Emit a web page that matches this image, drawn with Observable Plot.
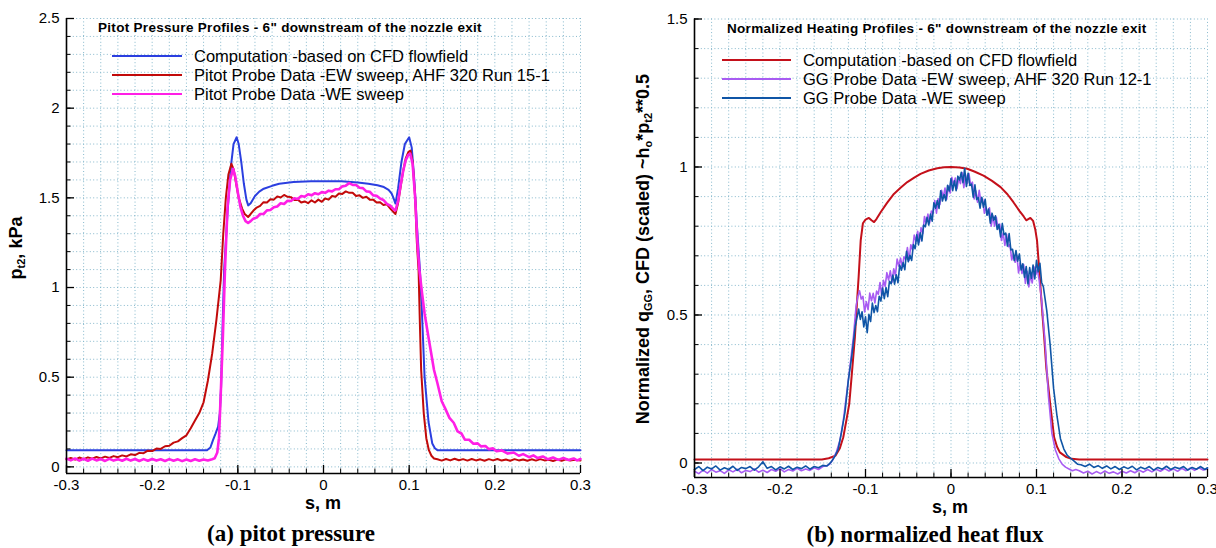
<!DOCTYPE html>
<html><head><meta charset="utf-8">
<script src="https://cdn.jsdelivr.net/npm/d3@7"></script>
<script src="https://cdn.jsdelivr.net/npm/@observablehq/plot@0.6"></script>
<style>
body{margin:0;background:#fff;}
#page{position:relative;width:1216px;height:548px;overflow:hidden;font-family:"Liberation Sans",Arial,sans-serif;color:#000;}
.abs{position:absolute;white-space:nowrap;line-height:1;}
.panel{position:absolute;top:0;}
.ttl{font-weight:bold;font-size:13.5px;letter-spacing:0.3px;transform:translateY(-50%);}
.leg{font-size:16.5px;transform:translateY(-50%);}
.sw{position:absolute;height:0;border-top-style:solid;transform:translateY(-50%);}
.axt{font-weight:bold;font-size:18px;transform:translate(-50%,-50%);}
.yt{font-weight:bold;font-size:18px;transform:translate(-50%,-50%) rotate(-90deg);}
.yt sub{font-size:11px;vertical-align:-3px;}
.cap{font-family:"Liberation Serif","Times New Roman",serif;font-weight:bold;font-size:23px;transform:translate(-50%,-50%);}
</style></head>
<body><div id="page"></div>
<script>
// ---------- axis ticks & labels ----------
const sDomain = [-0.3, 0.3];
const sMajor = [-0.3, -0.2, -0.1, 0, 0.1, 0.2, 0.3];
const pitotDomain = [-0.037, 2.5];
const pitotMajor = [0, 0.5, 1, 1.5, 2, 2.5];
const heatDomain = [-0.049, 1.5];
const heatMajor = [0, 0.5, 1, 1.5];

const pitotTitle = 'Pitot Pressure Profiles - 6" downstream of the nozzle exit';
const heatTitle = 'Normalized Heating Profiles - 6" downstream of the nozzle exit';
const pitotNames = ["Computation -based on CFD flowfield", "Pitot Probe Data -EW sweep, AHF 320 Run 15-1", "Pitot Probe Data -WE sweep"];
const heatNames = ["Computation -based on CFD flowfield", "GG Probe Data -EW sweep, AHF 320 Run 12-1", "GG Probe Data -WE sweep"];
const pitotColors = ["#2b3fe0", "#c20a0a", "#ff1fe6"];
const heatColors = ["#c4101a", "#a85cf2", "#0f55a6"];

// ---------- (a) pitot pressure, kPa : [s (m), p_t2] ----------
const pitotCFD = [[-0.3,0.093],[-0.136,0.093],[-0.132,0.108],[-0.129,0.149],[-0.126,0.185],[-0.123,0.225],[-0.121,0.3],[-0.1195,0.45],[-0.118,0.75],[-0.116,1.096],[-0.112,1.42],[-0.108,1.68],[-0.105,1.8],[-0.1014,1.838],[-0.099,1.8],[-0.096,1.7],[-0.093,1.58],[-0.09,1.49],[-0.0879,1.458],[-0.085,1.47],[-0.08,1.51],[-0.075,1.535],[-0.0697,1.551],[-0.06,1.567],[-0.0517,1.579],[-0.035,1.588],[-0.0146,1.592],[0.0207,1.592],[0.04,1.585],[0.0524,1.579],[0.063,1.57],[0.0705,1.56],[0.076,1.545],[0.0796,1.523],[0.082,1.495],[0.084,1.468],[0.087,1.55],[0.091,1.7],[0.095,1.8],[0.1,1.838],[0.103,1.78],[0.106,1.6],[0.109,1.35],[0.1126,1.094],[0.115,0.85],[0.118,0.5],[0.1226,0.25],[0.127,0.13],[0.13,0.104],[0.133,0.093],[0.3,0.093]];

const pitotEW = [[-0.3,0.042],[-0.295,0.05],[-0.29,0.04],[-0.285,0.052],[-0.28,0.043],[-0.275,0.053],[-0.27,0.045],[-0.265,0.055],[-0.26,0.047],[-0.255,0.057],[-0.25,0.05],[-0.245,0.06],[-0.24,0.054],[-0.235,0.064],[-0.23,0.058],[-0.225,0.07],[-0.22,0.066],[-0.215,0.078],[-0.21,0.076],[-0.205,0.09],[-0.2,0.088],[-0.195,0.102],[-0.19,0.1],[-0.185,0.115],[-0.18,0.118],[-0.175,0.135],[-0.17,0.142],[-0.165,0.16],[-0.16,0.176],[-0.155,0.215],[-0.15,0.258],[-0.145,0.3],[-0.14,0.36],[-0.135,0.48],[-0.13,0.63],[-0.125,0.82],[-0.12,1.04],[-0.117,1.3],[-0.114,1.5],[-0.111,1.63],[-0.1075,1.69],[-0.105,1.66],[-0.102,1.58],[-0.099,1.5],[-0.095,1.44],[-0.092,1.41],[-0.088,1.393],[-0.085,1.41],[-0.082,1.428],[-0.078,1.446],[-0.074,1.455],[-0.07,1.476],[-0.066,1.474],[-0.062,1.492],[-0.058,1.49],[-0.054,1.508],[-0.05,1.502],[-0.046,1.516],[-0.042,1.506],[-0.038,1.504],[-0.034,1.488],[-0.03,1.49],[-0.026,1.474],[-0.022,1.48],[-0.018,1.47],[-0.014,1.486],[-0.01,1.474],[-0.006,1.49],[-0.002,1.478],[0.002,1.496],[0.006,1.49],[0.01,1.51],[0.014,1.506],[0.018,1.524],[0.022,1.522],[0.026,1.536],[0.03,1.528],[0.034,1.528],[0.038,1.51],[0.042,1.514],[0.046,1.5],[0.05,1.506],[0.054,1.49],[0.058,1.49],[0.062,1.474],[0.066,1.476],[0.07,1.46],[0.074,1.464],[0.078,1.44],[0.082,1.42],[0.084,1.41],[0.087,1.47],[0.09,1.56],[0.093,1.65],[0.096,1.72],[0.099,1.755],[0.1015,1.764],[0.104,1.7],[0.107,1.5],[0.109,1.25],[0.111,1.094],[0.1125,0.8],[0.114,0.54],[0.117,0.3],[0.12,0.16],[0.123,0.093],[0.126,0.062],[0.129,0.047],[0.133,0.042],[0.138,0.035],[0.143,0.044],[0.148,0.036],[0.153,0.045],[0.158,0.037],[0.163,0.043],[0.168,0.035],[0.173,0.044],[0.178,0.036],[0.183,0.042],[0.188,0.034],[0.193,0.043],[0.198,0.036],[0.203,0.044],[0.208,0.035],[0.213,0.041],[0.218,0.034],[0.223,0.043],[0.228,0.036],[0.233,0.041],[0.238,0.034],[0.243,0.042],[0.248,0.035],[0.253,0.043],[0.258,0.036],[0.263,0.04],[0.268,0.033],[0.273,0.041],[0.278,0.034],[0.283,0.042],[0.288,0.035],[0.293,0.04],[0.3,0.036]];

const pitotWE = [[-0.3,0.046],[-0.295,0.036],[-0.29,0.047],[-0.285,0.035],[-0.28,0.045],[-0.275,0.034],[-0.27,0.046],[-0.265,0.036],[-0.26,0.044],[-0.255,0.033],[-0.25,0.045],[-0.245,0.035],[-0.24,0.043],[-0.235,0.034],[-0.23,0.045],[-0.225,0.035],[-0.22,0.044],[-0.215,0.033],[-0.21,0.043],[-0.205,0.034],[-0.2,0.044],[-0.195,0.035],[-0.19,0.042],[-0.185,0.033],[-0.18,0.043],[-0.175,0.034],[-0.17,0.042],[-0.165,0.032],[-0.16,0.041],[-0.155,0.033],[-0.15,0.042],[-0.145,0.034],[-0.14,0.041],[-0.135,0.036],[-0.13,0.043],[-0.127,0.048],[-0.124,0.08],[-0.122,0.16],[-0.12,0.4],[-0.1175,0.72],[-0.115,1.1],[-0.112,1.45],[-0.109,1.6],[-0.1055,1.662],[-0.103,1.62],[-0.1,1.53],[-0.097,1.45],[-0.094,1.4],[-0.091,1.37],[-0.088,1.36],[-0.085,1.37],[-0.082,1.384],[-0.078,1.39],[-0.074,1.41],[-0.07,1.41],[-0.066,1.43],[-0.062,1.432],[-0.058,1.448],[-0.054,1.452],[-0.05,1.47],[-0.046,1.466],[-0.042,1.484],[-0.038,1.482],[-0.034,1.498],[-0.03,1.494],[-0.026,1.51],[-0.022,1.506],[-0.018,1.52],[-0.014,1.514],[-0.01,1.526],[-0.006,1.52],[-0.002,1.532],[0.002,1.528],[0.006,1.54],[0.01,1.536],[0.014,1.548],[0.018,1.548],[0.022,1.564],[0.026,1.568],[0.03,1.582],[0.034,1.572],[0.038,1.572],[0.042,1.556],[0.046,1.554],[0.05,1.536],[0.054,1.534],[0.058,1.514],[0.062,1.512],[0.066,1.496],[0.07,1.488],[0.074,1.466],[0.078,1.456],[0.082,1.436],[0.084,1.43],[0.087,1.48],[0.09,1.57],[0.093,1.65],[0.096,1.71],[0.099,1.74],[0.1012,1.746],[0.104,1.69],[0.107,1.5],[0.11,1.22],[0.112,1.094],[0.115,0.97],[0.118,0.855],[0.1225,0.724],[0.129,0.54],[0.133,0.466],[0.138,0.366],[0.142,0.326],[0.147,0.273],[0.152,0.246],[0.1565,0.198],[0.161,0.186],[0.165,0.152],[0.17,0.151],[0.175,0.129],[0.18,0.131],[0.184,0.114],[0.189,0.116],[0.193,0.099],[0.198,0.103],[0.202,0.087],[0.208,0.092],[0.215,0.074],[0.222,0.08],[0.228,0.062],[0.233,0.071],[0.24,0.054],[0.245,0.064],[0.25,0.049],[0.256,0.058],[0.262,0.042],[0.268,0.052],[0.274,0.039],[0.28,0.049],[0.286,0.038],[0.292,0.047],[0.296,0.036],[0.3,0.044]];

// ---------- (b) normalized heat flux : [s (m), q] ----------
const heatCFD = [[-0.3,0.012],[-0.151,0.012],[-0.143,0.016],[-0.135,0.025],[-0.13,0.05],[-0.126,0.087],[-0.122,0.15],[-0.119,0.2],[-0.116,0.3],[-0.1124,0.425],[-0.11,0.54],[-0.108,0.63],[-0.1056,0.752],[-0.103,0.81],[-0.1,0.822],[-0.096,0.828],[-0.093,0.82],[-0.09,0.814],[-0.087,0.825],[-0.0823,0.847],[-0.075,0.878],[-0.0668,0.909],[-0.059,0.93],[-0.0511,0.949],[-0.043,0.964],[-0.0356,0.977],[-0.026,0.988],[-0.016,0.996],[-0.008,0.999],[0,1.0],[0.01,0.998],[0.019,0.994],[0.028,0.984],[0.038,0.971],[0.048,0.953],[0.058,0.932],[0.066,0.908],[0.073,0.881],[0.08,0.852],[0.085,0.833],[0.088,0.82],[0.0928,0.828],[0.096,0.818],[0.0985,0.79],[0.1006,0.752],[0.103,0.66],[0.1045,0.6],[0.107,0.5],[0.109,0.425],[0.1115,0.32],[0.116,0.2],[0.1206,0.087],[0.124,0.055],[0.1273,0.036],[0.135,0.02],[0.141,0.014],[0.15,0.012],[0.3,0.012]];

const heatEW = [[-0.3,-0.028],[-0.295,-0.036],[-0.29,-0.024],[-0.285,-0.034],[-0.28,-0.022],[-0.275,-0.031],[-0.27,-0.026],[-0.265,-0.035],[-0.26,-0.023],[-0.255,-0.03],[-0.25,-0.021],[-0.245,-0.033],[-0.24,-0.025],[-0.235,-0.029],[-0.23,-0.02],[-0.225,-0.031],[-0.22,-0.024],[-0.215,-0.032],[-0.21,-0.022],[-0.205,-0.028],[-0.2,-0.019],[-0.195,-0.03],[-0.19,-0.022],[-0.185,-0.027],[-0.18,-0.018],[-0.175,-0.026],[-0.17,-0.02],[-0.165,-0.025],[-0.16,-0.016],[-0.155,-0.022],[-0.15,-0.012],[-0.146,-0.01],[-0.142,-0.004],[-0.138,0.012],[-0.134,0.038],[-0.13,0.075],[-0.126,0.142],[-0.122,0.235],[-0.118,0.33],[-0.114,0.43],[-0.111,0.53],
[-0.109,0.562],[-0.107,0.582],[-0.105,0.554],[-0.103,0.563],[-0.101,0.51],[-0.099,0.545],[-0.097,0.518],[-0.095,0.574],[-0.093,0.548],[-0.091,0.573],[-0.089,0.541],[-0.087,0.581],[-0.085,0.57],[-0.083,0.61],[-0.081,0.565],[-0.079,0.617],[-0.077,0.597],[-0.075,0.643],[-0.073,0.618],[-0.071,0.649],[-0.069,0.611],[-0.067,0.656],[-0.065,0.634],[-0.063,0.689],[-0.061,0.665],[-0.059,0.692],[-0.057,0.66],[-0.055,0.697],[-0.053,0.687],[-0.051,0.728],[-0.049,0.685],[-0.047,0.737],[-0.045,0.72],[-0.043,0.77],[-0.041,0.749],[-0.039,0.783],[-0.037,0.747],[-0.035,0.795],[-0.033,0.775],[-0.031,0.833],[-0.029,0.811],[-0.027,0.841],[-0.025,0.811],[-0.023,0.851],[-0.021,0.843],[-0.019,0.887],[-0.017,0.844],[-0.015,0.893],[-0.013,0.874],[-0.011,0.921],[-0.009,0.898],[-0.007,0.929],[-0.005,0.891],[-0.003,0.936],[-0.001,0.912],[0.001,0.965],[0.003,0.938],[0.005,0.963],[0.007,0.927],[0.009,0.96],[0.011,0.944],[0.013,0.981],[0.015,0.93],[0.017,0.974],[0.019,0.944],[0.021,0.978],[0.023,0.938],[0.025,0.949],[0.027,0.892],[0.029,0.92],[0.031,0.881],[0.033,0.921],[0.035,0.881],[0.037,0.892],[0.039,0.844],[0.041,0.865],[0.043,0.838],[0.045,0.862],[0.047,0.8],[0.049,0.834],[0.051,0.8],[0.053,0.83],[0.055,0.791],[0.057,0.807],[0.059,0.752],[0.061,0.777],[0.063,0.735],[0.065,0.773],[0.067,0.731],[0.069,0.738],[0.071,0.686],[0.073,0.706],[0.075,0.678],[0.077,0.702],[0.079,0.642],[0.081,0.676],[0.083,0.64],[0.085,0.67],[0.087,0.607],[0.089,0.648],[0.091,0.595],[0.093,0.635],[0.095,0.608],[0.097,0.663],[0.099,0.636],[0.101,0.654],[0.103,0.62],
[0.106,0.55],[0.11,0.41],[0.114,0.225],[0.118,0.1],[0.122,0.045],[0.126,0.015],[0.13,-0.004],[0.134,-0.014],[0.138,-0.02],[0.142,-0.026],[0.146,-0.022],[0.15,-0.026],[0.155,-0.034],[0.16,-0.028],[0.165,-0.037],[0.17,-0.029],[0.175,-0.036],[0.18,-0.027],[0.185,-0.035],[0.19,-0.03],[0.195,-0.037],[0.2,-0.028],[0.205,-0.034],[0.21,-0.026],[0.215,-0.033],[0.22,-0.024],[0.225,-0.031],[0.23,-0.022],[0.235,-0.03],[0.24,-0.021],[0.245,-0.028],[0.25,-0.019],[0.255,-0.027],[0.26,-0.02],[0.265,-0.028],[0.27,-0.018],[0.275,-0.026],[0.28,-0.017],[0.285,-0.025],[0.29,-0.016],[0.295,-0.024],[0.3,-0.019]];

const heatWE = [[-0.3,-0.022],[-0.295,-0.012],[-0.29,-0.026],[-0.285,-0.014],[-0.28,-0.02],[-0.275,-0.01],[-0.27,-0.024],[-0.265,-0.016],[-0.26,-0.022],[-0.255,-0.011],[-0.25,-0.025],[-0.245,-0.015],[-0.24,-0.019],[-0.235,-0.012],[-0.23,-0.024],[-0.225,-0.013],[-0.22,0.004],[-0.215,-0.018],[-0.21,-0.012],[-0.205,-0.023],[-0.2,-0.013],[-0.195,-0.02],[-0.19,-0.011],[-0.185,-0.022],[-0.18,-0.014],[-0.175,-0.019],[-0.17,-0.01],[-0.165,-0.021],[-0.16,-0.012],[-0.155,-0.016],[-0.15,-0.008],[-0.145,-0.01],[-0.14,0.004],[-0.136,0.022],[-0.132,0.046],[-0.128,0.104],[-0.124,0.172],[-0.12,0.281],[-0.116,0.362],[-0.112,0.462],
[-0.11,0.49],[-0.108,0.52],[-0.106,0.485],[-0.104,0.511],[-0.102,0.46],[-0.1,0.494],[-0.098,0.44],[-0.096,0.502],[-0.094,0.478],[-0.092,0.54],[-0.09,0.508],[-0.088,0.532],[-0.086,0.511],[-0.084,0.563],[-0.082,0.547],[-0.08,0.591],[-0.078,0.555],[-0.076,0.593],[-0.074,0.562],[-0.072,0.614],[-0.07,0.605],[-0.068,0.635],[-0.066,0.604],[-0.064,0.636],[-0.062,0.609],[-0.06,0.669],[-0.058,0.651],[-0.056,0.677],[-0.054,0.653],[-0.052,0.715],[-0.05,0.68],[-0.048,0.702],[-0.046,0.684],[-0.044,0.738],[-0.042,0.724],[-0.04,0.771],[-0.038,0.737],[-0.036,0.778],[-0.034,0.75],[-0.032,0.804],[-0.03,0.798],[-0.028,0.83],[-0.026,0.804],[-0.024,0.841],[-0.022,0.817],[-0.02,0.879],[-0.018,0.861],[-0.016,0.887],[-0.014,0.86],[-0.012,0.92],[-0.01,0.885],[-0.008,0.907],[-0.006,0.886],[-0.004,0.938],[-0.002,0.919],[0,0.961],[0.002,0.92],[0.004,0.953],[0.006,0.92],[0.008,0.969],[0.01,0.956],[0.012,0.982],[0.014,0.947],[0.016,0.996],[0.018,0.934],[0.02,0.979],[0.022,0.938],[0.024,0.942],[0.026,0.898],[0.028,0.94],[0.03,0.89],[0.032,0.897],[0.034,0.861],[0.036,0.898],[0.038,0.864],[0.04,0.891],[0.042,0.837],[0.044,0.858],[0.046,0.81],[0.048,0.844],[0.05,0.82],[0.052,0.835],[0.054,0.789],[0.056,0.806],[0.058,0.764],[0.06,0.809],[0.062,0.771],[0.064,0.777],[0.066,0.733],[0.068,0.775],[0.07,0.72],[0.072,0.722],[0.074,0.684],[0.076,0.718],[0.078,0.682],[0.08,0.706],[0.082,0.652],[0.084,0.673],[0.086,0.627],[0.088,0.664],[0.09,0.605],[0.092,0.66],[0.094,0.624],[0.096,0.669],[0.098,0.622],[0.1,0.685],[0.102,0.646],[0.104,0.675],[0.106,0.61],
[0.108,0.596],[0.112,0.515],[0.116,0.398],[0.12,0.252],[0.124,0.158],[0.128,0.082],[0.132,0.047],[0.136,0.026],[0.14,0.016],[0.144,0.006],[0.148,-0.004],[0.152,-0.006],[0.157,-0.012],[0.162,-0.004],[0.167,-0.015],[0.172,-0.009],[0.177,-0.018],[0.182,-0.01],[0.187,-0.02],[0.192,-0.012],[0.197,-0.022],[0.202,-0.013],[0.207,-0.019],[0.212,-0.011],[0.217,-0.023],[0.222,-0.014],[0.227,-0.02],[0.232,-0.012],[0.237,-0.024],[0.242,-0.015],[0.247,-0.021],[0.252,-0.011],[0.257,-0.022],[0.262,-0.014],[0.267,-0.019],[0.272,-0.012],[0.277,-0.024],[0.282,-0.015],[0.287,-0.021],[0.292,-0.012],[0.297,-0.022],[0.3,-0.016]];

// ---------- drawing ----------
const GRID = "#86b8cc";
const H = 500;
const fmt = d => String(+(+d).toFixed(2));
const sMinor = d3.ticks(sDomain[0], sDomain[1], 30);

function panel(cfg) {
  const innerW = cfg.width - cfg.ml - cfg.mr;
  const innerH = H - cfg.mt - cfg.mb;
  const yMinor = d3.ticks(0, cfg.yDomain[1], Math.round(cfg.yDomain[1] * 10));
  return Plot.plot({
    width: cfg.width, height: H,
    marginLeft: cfg.ml, marginRight: cfg.mr, marginTop: cfg.mt, marginBottom: cfg.mb,
    x: {domain: sDomain},
    y: {domain: cfg.yDomain},
    style: {fontFamily: '"Liberation Sans", Arial, sans-serif', fontSize: "15px", color: "#000", background: "transparent", overflow: "visible"},
    marks: [
      Plot.ruleX(sMinor, {x: d => d, stroke: GRID, strokeDasharray: "1,2.4", strokeWidth: 1}),
      Plot.ruleY(yMinor, {y: d => d, stroke: GRID, strokeDasharray: "1,2.4", strokeWidth: 1}),
      ...cfg.series.map((s, i) => Plot.line(s, {x: d => d[0], y: d => d[1], stroke: cfg.colors[i], strokeWidth: cfg.widths[i], strokeLinejoin: "round"})),
      Plot.tickX(sMinor, {x: d => d, insetTop: innerH - 4.5, stroke: "#000"}),
      Plot.tickX(sMajor, {x: d => d, insetTop: innerH - 8, stroke: "#000", strokeWidth: 1.3}),
      Plot.tickY(yMinor, {y: d => d, insetRight: innerW - 4.5, stroke: "#000"}),
      Plot.tickY(cfg.yMajor, {y: d => d, insetRight: innerW - 8, stroke: "#000", strokeWidth: 1.3}),
      Plot.ruleX([sDomain[0]], {x: d => d, stroke: "#000", strokeWidth: 1.6}),
      Plot.ruleY([cfg.yDomain[0]], {y: d => d, stroke: "#000", strokeWidth: 1.6}),
      Plot.axisX({ticks: sMajor, tickSize: 0, tickPadding: 6, tickFormat: fmt, label: null, fontSize: 15}),
      Plot.axisY({ticks: cfg.yMajor, tickSize: 0, tickPadding: 7, tickFormat: fmt, label: null, fontSize: 15})
    ]
  });
}

const page = document.getElementById("page");
function add(html, cls, css) {
  const d = document.createElement("div");
  d.className = "abs " + cls;
  d.innerHTML = html;
  Object.assign(d.style, css);
  page.appendChild(d);
  return d;
}

const left = panel({width: 600, ml: 66, mr: 20, mt: 18, mb: 27, yDomain: pitotDomain, yMajor: pitotMajor,
  series: [pitotCFD, pitotEW, pitotWE], colors: pitotColors, widths: [2, 2, 2.6]});
const right = panel({width: 606, ml: 84, mr: 9, mt: 18.5, mb: 23, yDomain: heatDomain, yMajor: heatMajor,
  series: [heatCFD, heatEW, heatWE], colors: heatColors, widths: [2, 1.6, 1.6]});
const lw = document.createElement("div"); lw.className = "panel"; lw.style.left = "0px"; lw.appendChild(left); page.appendChild(lw);
const rw = document.createElement("div"); rw.className = "panel"; rw.style.left = "610px"; rw.appendChild(right); page.appendChild(rw);

// titles inside the frames
add(pitotTitle.replace(/"/g, "&quot;"), "ttl", {left: "98px", top: "28.3px"});
add(heatTitle.replace(/"/g, "&quot;"), "ttl", {left: "727px", top: "28.8px"});

// legends
const legRowsL = [55.7, 75, 94], legRowsR = [60, 79, 97.8];
pitotNames.forEach((n, i) => {
  add("", "sw", {left: "112px", width: "70px", top: legRowsL[i] + "px", borderTopWidth: "2.5px", borderTopColor: pitotColors[i]});
  add(n, "leg", {left: "194px", top: legRowsL[i] + "px"});
});
heatNames.forEach((n, i) => {
  add("", "sw", {left: "722px", width: "69px", top: legRowsR[i] + "px", borderTopWidth: "2.5px", borderTopColor: heatColors[i]});
  add(n, "leg", {left: "803px", top: legRowsR[i] + "px"});
});

// axis titles
add("s, m", "axt", {left: "323px", top: "503px"});
add("s, m", "axt", {left: "950px", top: "507px"});
add("p<sub>t2</sub>, kPa", "yt", {left: "17px", top: "248px"});
add("Normalized q<sub>GG</sub>, CFD (scaled) ~h<sub>o</sub>*p<sub>t2</sub>**0.5", "yt", {left: "644px", top: "249px"});

// captions
add("(a) pitot pressure", "cap", {left: "291px", top: "533px"});
add("(b) normalized heat flux", "cap", {left: "925px", top: "534px"});
</script>
</body></html>
